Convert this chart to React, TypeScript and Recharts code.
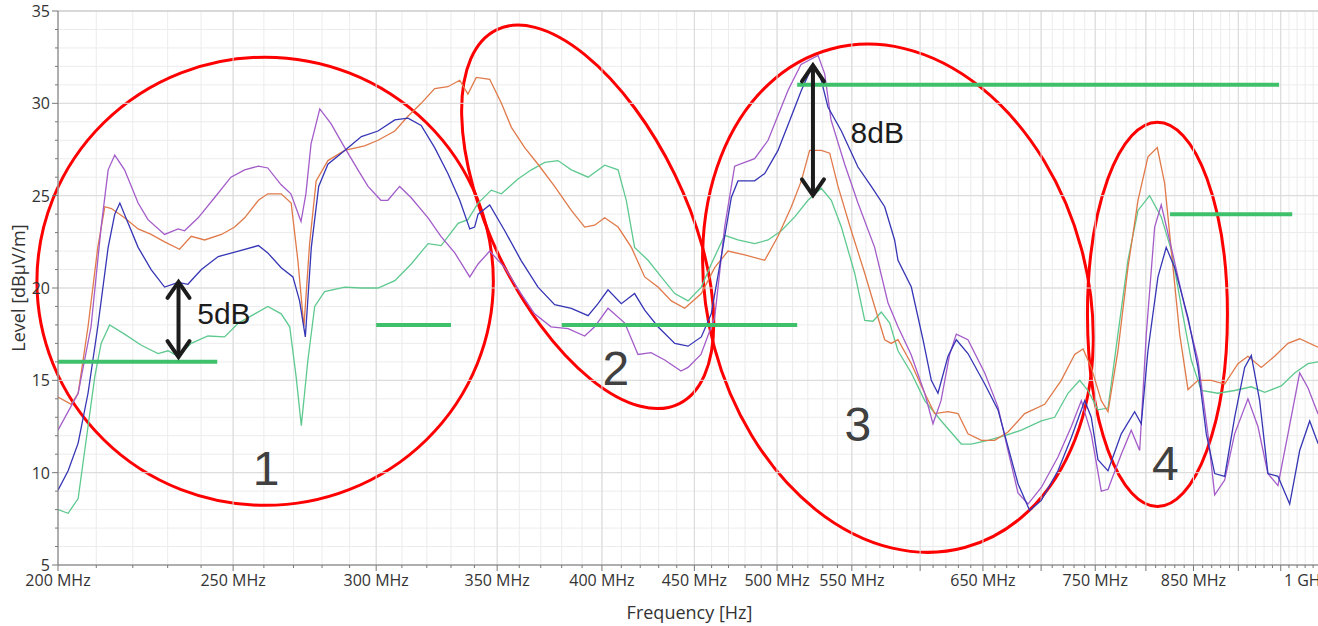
import React from "react";
import { Line, LineChart, CartesianGrid, ReferenceArea, ReferenceDot, ReferenceLine, XAxis, YAxis } from "recharts";

type Pt = [number, number];

// measured traces: [frequency MHz, level dBµV/m]
const ORANGE: Pt[] = [
  [200, 14.1], [203.4, 13.7], [205.2, 14.3], [207.8, 17.9], [210.4, 22.2], [212.3, 24.4], [214.1, 24.3], [217.7, 23.8],
  [221.5, 23.2], [225.2, 22.9], [229.1, 22.5], [233.5, 22.1], [237, 22.8], [241.1, 22.6], [246.3, 22.9], [250.5, 23.3],
  [253.7, 23.8], [258.2, 24.75], [261.3, 25.1], [265.8, 25.1], [269.2, 24.6], [271.5, 21.5], [273.6, 17.9], [275.6, 22.4],
  [277.9, 25.8], [282.1, 26.9], [288.2, 27.45], [295.6, 27.7], [300.7, 28], [307.2, 28.5], [312.4, 29.3], [317.7, 30],
  [323.2, 30.8], [328.7, 30.9], [333.7, 31.25], [337.2, 30.5], [340.8, 31.4], [346.7, 31.3], [351.9, 30], [356.4, 28.7],
  [362.5, 27.6], [368.7, 26.7], [376.6, 25.5], [384.7, 24.2], [391.3, 23.3], [396.3, 23.4], [401.4, 23.8], [408.3, 23.3],
  [415.3, 22.2], [422.4, 20.6], [429.6, 20.05], [437, 19.3], [444.5, 18.9], [454, 19.7], [461.8, 21.1], [469.7, 22],
  [479.8, 21.8], [492.2, 21.5], [500.6, 22.8], [509.2, 24.4], [515.7, 25.8], [521.2, 27.45], [529, 27.45], [534.7, 27.3],
  [540.4, 25.5], [549.6, 23.1], [559.1, 20.8], [566.2, 19], [573.5, 17.2], [578.3, 17], [583.3, 17.2], [593.3, 15.9],
  [603.5, 14.3], [611.2, 13.2], [621.7, 13.3], [629.7, 13.2], [637.7, 12.1], [648.7, 11.75], [659.8, 11.75], [671.1, 12.2],
  [685.5, 13.2], [703.2, 13.7], [718.2, 15], [730.6, 16.4], [738.4, 16.7], [746.2, 15.7], [755.8, 13.9], [762.3, 13.3],
  [772, 16.6], [781.9, 21.1], [792, 24.75], [802.1, 27.1], [811.7, 27.6], [819.4, 25.65], [826.3, 22.05], [835.2, 17.5],
  [844.1, 14.5], [854.9, 15], [869.5, 15], [884.5, 14.8], [899.6, 15.9], [911.1, 16.3], [926.7, 15.7], [942.6, 16.3],
  [958.8, 17], [973.2, 17.25], [996.1, 16.8], [1000, 16.8],
];

const PURPLE: Pt[] = [
  [200, 12.3], [205.2, 14.3], [208.6, 17.9], [211.3, 23.3], [213.2, 26.4], [215, 27.2], [217.7, 26.4], [221.5, 24.6],
  [224.3, 23.7], [229.1, 22.9], [233.1, 23.2], [235, 23.1], [239.1, 23.8], [244.2, 24.9], [249.3, 26], [253.7, 26.4],
  [258.2, 26.6], [261.3, 26.5], [265.7, 25.6], [269.1, 25.1], [272.6, 23.6], [274.3, 25.1], [276.1, 27.8], [279.2, 29.7],
  [283.2, 28.9], [288.2, 27.6], [293.1, 26.4], [296.9, 25.5], [301.8, 24.75], [304.5, 24.75], [309.1, 25.5], [313.6, 24.9],
  [320.5, 23.8], [325.8, 22.8], [331.6, 21.9], [338, 20.6], [341.6, 21.3], [346.7, 22], [353.4, 21.1], [360.8, 19.7],
  [367.1, 18.6], [374.9, 17.9], [383.1, 17.8], [391.3, 17.4], [396.3, 17.9], [403.1, 18.9], [411.8, 18.1], [418.8, 16.4],
  [425.8, 16.5], [433.3, 16.1], [442.4, 15.5], [446.4, 15.7], [453.8, 16.4], [461.8, 18.4], [467.7, 23.3], [473.7, 26.6],
  [485.9, 27], [494.3, 28], [507, 30.7], [515.5, 32.1], [526.8, 32.6], [531.3, 31.6], [535.6, 29.1], [545, 26.7],
  [554.3, 24.6], [566.2, 22.2], [575.9, 19.2], [583.3, 17.9], [593.1, 16.4], [603.5, 14.3], [609.9, 12.65], [616.2, 13.9],
  [623, 16.4], [628.3, 17.5], [637.7, 17.2], [651.5, 15.4], [662.6, 13.55], [671.1, 11.2], [679.7, 8.9], [688.4, 8.3],
  [700.2, 9.2], [715.2, 10.85], [727.5, 12.5], [736.8, 13.9], [746.2, 12.1], [755.8, 9], [762.3, 9.1], [775.3, 11],
  [785.2, 12.3], [793.7, 11.2], [800.4, 17.5], [809, 23.3], [815.8, 24.5], [826.3, 22.2], [840.5, 19], [854.9, 16.1],
  [865.8, 12.1], [873.3, 8.8], [884.5, 9.6], [895.8, 12.1], [911.1, 14], [922.8, 12.5], [934.6, 9.95], [946.6, 9.3],
  [958.8, 12.1], [973.2, 15.4], [983.5, 14.6], [996.1, 13.2], [1000, 13],
];

const BLUE: Pt[] = [
  [200, 9.05], [202.6, 10.1], [205.2, 11.6], [207.8, 14.3], [210.4, 17.9], [213.2, 22.2], [215, 24], [216.4, 24.6],
  [218.7, 23.5], [221.5, 22.2], [225.2, 21], [229.1, 20.05], [233.1, 20.3], [236, 20.2], [240.1, 21], [245.3, 21.7],
  [251.7, 22], [258.2, 22.3], [261.3, 21.9], [265.8, 21.1], [269.8, 20.6], [272.1, 19.3], [274.1, 17.35], [276.2, 22.2],
  [278.8, 25.5], [282.1, 26.7], [288.2, 27.45], [294.4, 28.2], [300.7, 28.5], [307.2, 29.1], [312.4, 29.2], [317.7, 28.8],
  [323.2, 27.6], [328.7, 26.2], [333.7, 24.75], [338, 23.2], [340.1, 23.3], [341.6, 24], [346.7, 24.5], [353.4, 23.1],
  [360.8, 21.5], [368.7, 20.05], [376.6, 19.1], [384.7, 18.9], [393, 18.5], [398, 19.15], [403.1, 19.9], [410, 19.15],
  [417, 19.7], [422.4, 18.8], [429.6, 17.9], [438.9, 17], [446.4, 16.85], [454, 17.35], [459.8, 18.6], [465.7, 21.7],
  [471.7, 24.9], [475.7, 25.8], [485.9, 25.8], [492.2, 26.2], [500.6, 27.45], [509.2, 29.3], [515.7, 30.7], [523.4, 32.1],
  [527.9, 31.6], [533.5, 29.8], [542.7, 28.5], [554.3, 26.55], [563.8, 25.5], [573.5, 24.4], [580.8, 22.6], [583.3, 21.5],
  [593.3, 20.05], [602.2, 17.2], [608.6, 15], [613.8, 14.3], [621.7, 16.3], [628.3, 17.2], [637.7, 16.45], [651.5, 14.8],
  [662.6, 13.4], [671.1, 11.4], [679.7, 9.4], [689.9, 7.95], [700.2, 8.5], [715.2, 10.1], [727.5, 11.9], [740, 13.9],
  [746.2, 13], [752.6, 10.7], [762.3, 10.1], [775.3, 12.1], [788.6, 13.3], [795.3, 12.65], [802.1, 16.6], [812.4, 20.6],
  [821, 22.2], [829.9, 21.1], [844.1, 18.4], [854.9, 15.7], [864, 12.1], [873.3, 9.95], [884.5, 9.8], [895.8, 13],
  [907.3, 15.7], [915, 16.35], [924.8, 13.9], [934.6, 9.95], [946.6, 9.8], [960.9, 8.3], [973.2, 11.2], [985.7, 12.8],
  [996.1, 11.6], [1000, 11.4],
];

const GREEN: Pt[] = [
  [200, 8], [202.6, 7.8], [205.2, 8.6], [207.8, 12.5], [209.6, 15.2], [211.3, 17], [213.6, 18], [217.7, 17.5],
  [222.4, 16.9], [227.2, 16.45], [230.1, 16.6], [233.1, 16.3], [237, 17], [242.1, 17.4], [247.3, 17.35], [251.7, 18.1],
  [257, 18.6], [261.3, 19], [265.8, 18.6], [268.7, 17.9], [270.9, 15.2], [272.7, 12.55], [275, 16.1], [277.4, 19],
  [280.9, 19.8], [288.2, 20.05], [294.4, 20], [300.7, 20], [307.2, 20.4], [313.7, 21.3], [320.5, 22.4], [325.9, 22.3],
  [333, 23.5], [337.2, 23.7], [341.6, 24.6], [347.4, 25.3], [351.9, 25.1], [359.4, 25.9], [365.6, 26.4], [371.9, 26.8],
  [378.2, 26.9], [384.7, 26.4], [393, 26], [401.4, 26.65], [408.3, 26.4], [412.6, 24.75], [417, 22.2], [424.2, 21.5],
  [431.4, 20.6], [438.9, 19.7], [446.4, 19.3], [454, 20.05], [459.8, 21.3], [467.7, 22.85], [475.7, 22.6], [485.9, 22.4],
  [494.3, 22.6], [502.7, 23.1], [511.4, 23.85], [520.1, 24.75], [529, 25.4], [535.8, 24.75], [542.7, 23.3], [552, 20.8],
  [559.1, 18.25], [565, 18.2], [571, 18.7], [577.2, 18.1], [583.3, 16.6], [593.3, 15.4], [603.5, 13.9], [616.4, 12.8],
  [632.3, 11.55], [640.4, 11.55], [654.2, 11.75], [668.3, 12], [682.6, 12.3], [700.2, 12.8], [712.2, 13], [724.4, 14.3],
  [735.3, 15], [743.1, 14.45], [752.6, 13.4], [762.3, 13.5], [772, 17.5], [781.9, 21.5], [792, 24.2], [803.8, 25],
  [815.8, 23.85], [826.3, 22.05], [836.9, 19], [847.6, 16.1], [858.5, 14.45], [876.9, 14.3], [895.8, 14.45], [915, 14.65],
  [930.7, 14.35], [950.6, 14.7], [967, 15.4], [983.5, 15.9], [996.1, 16], [1000, 16],
];

// limit segments
const LIMITS = [
  { from: 200, to: 245, level: 16 },
  { from: 300, to: 330, level: 18 },
  { from: 380, to: 513, level: 18 },
  { from: 513, to: 948, level: 31 },
  { from: 825, to: 964, level: 24 },
];

const X_LABELS = [200, 250, 300, 350, 400, 450, 500, 550, 650, 750, 850, 1000];
const X_MAJOR = [200, 250, 300, 350, 400, 450, 500, 550, 600, 650, 700, 750, 800, 850, 900, 950, 1000];
const Y_LABELS = [5, 10, 15, 20, 25, 30, 35];

const X_GRID: number[] = [];
for (let f = 200; f <= 1000; f += 10) X_GRID.push(f);
const Y_GRID: number[] = [];
for (let v = 5; v <= 35; v += 1) Y_GRID.push(v);

// annotations
const RINGS = [
  { x1: 194.7, x2: 348.3, y1: 8.23, y2: 32.5, angle: 0 },
  { x1: 347.2, x2: 444.4, y1: 12.59, y2: 35.12, angle: -26 },
  { x1: 457.8, x2: 743.1, y1: 5.47, y2: 33.42, angle: -15 },
  { x1: 742.6, x2: 887.6, y1: 8.17, y2: 28.98, angle: 0 },
];

const ARROWS = [
  { freq: 233.2, top: 20.33, bottom: 16.26 },
  { freq: 523.4, top: 32.06, bottom: 25.02 },
];

const NOTES = [
  { freq: 247.1, level: 18.66, text: "5dB", size: 30, color: "#1c1c1c" },
  { freq: 568.1, level: 28.45, text: "8dB", size: 30, color: "#1c1c1c" },
  { freq: 260.7, level: 10.26, text: "1", size: 48, color: "#404040" },
  { freq: 407.2, level: 15.68, text: "2", size: 48, color: "#404040" },
  { freq: 554.3, level: 12.64, text: "3", size: 48, color: "#404040" },
  { freq: 820.2, level: 10.53, text: "4", size: 48, color: "#404040" },
];

const FONT = "'Open Sans', Roboto, sans-serif";
const NOTE_FONT = "'Liberation Sans', Arial, sans-serif";

const toRows = (pts: Pt[]) => pts.map(([f, v]) => ({ f, v }));

function FreqTick({ x, y, payload }: any) {
  const v = payload.value as number;
  const major = X_MAJOR.includes(v);
  // the last label sits a little left of its tick, as in the source plot
  const dx = v >= 1000 ? -15 : 0;
  return (
    <g>
      <line x1={x} x2={x} y1={y} y2={y + (major ? 6 : 3)} stroke="#777" />
      {X_LABELS.includes(v) && (
        <text x={x + dx} y={y + 21} textAnchor="middle" fill="#333" fontSize={16} fontFamily={FONT}>
          {v >= 1000 ? "1 GHz" : `${v} MHz`}
        </text>
      )}
    </g>
  );
}

function LevelTick({ x, y, payload }: any) {
  const v = payload.value as number;
  const major = Y_LABELS.includes(v);
  return (
    <g>
      <line x1={x - (major ? 6 : 3)} x2={x} y1={y} y2={y} stroke="#777" />
      {major && (
        <text x={x - 8} y={y + 6} textAnchor="end" fill="#333" fontSize={16} fontFamily={FONT}>
          {v}
        </text>
      )}
    </g>
  );
}

function Ring({ x, y, width, height, angle }: any) {
  const cx = x + width / 2;
  const cy = y + height / 2;
  return (
    <ellipse
      cx={cx}
      cy={cy}
      rx={Math.abs(width) / 2}
      ry={Math.abs(height) / 2}
      transform={`rotate(${angle} ${cx} ${cy})`}
      fill="none"
      stroke="#f00"
      strokeWidth={3}
    />
  );
}

function Head({ cx, cy, dir }: any) {
  const d = dir === "up" ? 16 : -16;
  return (
    <path
      d={`M${cx - 11},${cy + d} L${cx},${cy} L${cx + 11},${cy + d}`}
      fill="none"
      stroke="#1c1c1c"
      strokeWidth={4}
      strokeLinecap="round"
    />
  );
}

export default function App() {
  return (
    <div style={{ position: "fixed", left: 0, top: 0, width: 1318, height: 626, overflow: "hidden", background: "#fff" }}>
      <LineChart width={1330} height={626} margin={{ top: 11, right: 9, bottom: 0, left: 8 }}>
        <CartesianGrid stroke="#ececec" />
        <XAxis
          dataKey="f"
          type="number"
          scale="log"
          domain={[200, 1000]}
          allowDataOverflow
          ticks={X_GRID}
          interval={0}
          tickSize={0}
          tickMargin={0}
          tickLine={false}
          height={61}
          stroke="#777"
          tick={(p: any) => <FreqTick {...p} />}
          label={{
            content: () => (
              <text x={689.5} y={619} textAnchor="middle" fill="#333" fontSize={18} fontFamily={FONT}>
                Frequency [Hz]
              </text>
            ),
          }}
        />
        <YAxis
          type="number"
          domain={[5, 35]}
          allowDataOverflow
          ticks={Y_GRID}
          interval={0}
          tickSize={0}
          tickMargin={0}
          tickLine={false}
          width={50}
          stroke="#777"
          tick={(p: any) => <LevelTick {...p} />}
          label={{
            content: () => (
              <text x={25} y={288} transform="rotate(-90 25 288)" textAnchor="middle" fill="#333" fontSize={18} fontFamily={FONT}>
                Level [dBµV/m]
              </text>
            ),
          }}
        />
        {X_MAJOR.map((f) => (
          <ReferenceLine key={`vx${f}`} x={f} stroke="#d9d9d9" />
        ))}
        {Y_LABELS.map((v) => (
          <ReferenceLine key={`hy${v}`} y={v} stroke={v === 35 ? "#bdbdbd" : "#d9d9d9"} />
        ))}

        <Line data={toRows(GREEN)} dataKey="v" stroke="#5ec98f" strokeWidth={1.3} dot={false} isAnimationActive={false} />
        <Line data={toRows(ORANGE)} dataKey="v" stroke="#e07a4a" strokeWidth={1.3} dot={false} isAnimationActive={false} />
        <Line data={toRows(PURPLE)} dataKey="v" stroke="#a35cc9" strokeWidth={1.3} dot={false} isAnimationActive={false} />
        <Line data={toRows(BLUE)} dataKey="v" stroke="#3535b5" strokeWidth={1.3} dot={false} isAnimationActive={false} />

        {LIMITS.map((l, i) => (
          <ReferenceLine
            key={`lim${i}`}
            segment={[
              { x: l.from, y: l.level },
              { x: l.to, y: l.level },
            ]}
            stroke="#3fc06a"
            strokeWidth={4}
            ifOverflow="visible"
          />
        ))}

        {RINGS.map((r, i) => (
          <ReferenceArea
            key={`ring${i}`}
            x1={r.x1}
            x2={r.x2}
            y1={r.y1}
            y2={r.y2}
            ifOverflow="visible"
            shape={(p: any) => <Ring {...p} angle={r.angle} />}
          />
        ))}

        {ARROWS.map((a, i) => (
          <ReferenceLine
            key={`shaft${i}`}
            segment={[
              { x: a.freq, y: a.top },
              { x: a.freq, y: a.bottom },
            ]}
            stroke="#1c1c1c"
            strokeWidth={4}
            ifOverflow="visible"
          />
        ))}
        {ARROWS.map((a, i) => (
          <ReferenceDot key={`up${i}`} x={a.freq} y={a.top} r={1} ifOverflow="visible" shape={(p: any) => <Head {...p} dir="up" />} />
        ))}
        {ARROWS.map((a, i) => (
          <ReferenceDot key={`dn${i}`} x={a.freq} y={a.bottom} r={1} ifOverflow="visible" shape={(p: any) => <Head {...p} dir="down" />} />
        ))}

        {NOTES.map((n, i) => (
          <ReferenceDot
            key={`note${i}`}
            x={n.freq}
            y={n.level}
            r={1}
            ifOverflow="visible"
            shape={(p: any) => (
              <text x={p.cx} y={p.cy + n.size * 0.36} textAnchor="middle" fill={n.color} fontSize={n.size} fontFamily={NOTE_FONT}>
                {n.text}
              </text>
            )}
          />
        ))}
      </LineChart>
    </div>
  );
}
